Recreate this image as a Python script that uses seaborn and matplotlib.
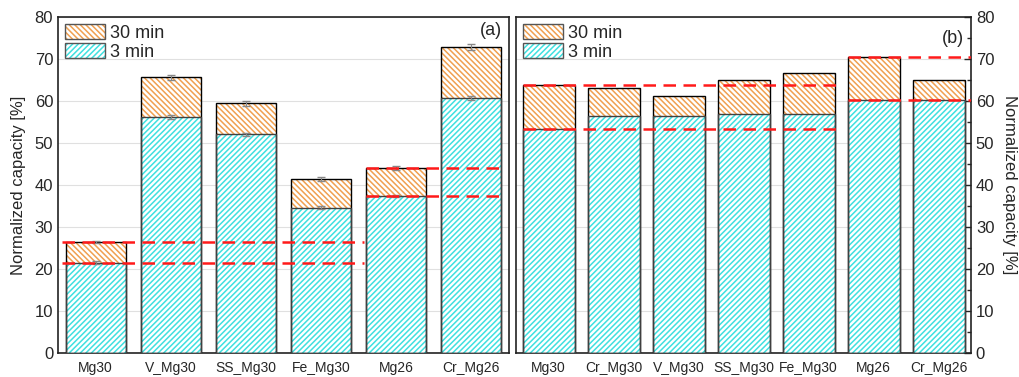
import matplotlib
matplotlib.use("Agg")
import matplotlib.pyplot as plt
import matplotlib.patches as mpatches
from matplotlib.legend_handler import HandlerTuple
from matplotlib.ticker import MultipleLocator
import numpy as np
import pandas as pd
import seaborn as sns

# ---------------- data ----------------
samples_a = ["Mg30", "V_Mg30", "SS_Mg30", "Fe_Mg30", "Mg26", "Cr_Mg26"]
cap3_a = [21.5, 56.2, 52.1, 34.6, 37.4, 60.7]
cap30_a = [26.4, 65.6, 59.5, 41.4, 44.1, 72.8]
err3_a = [0.3, 0.5, 0.4, 0.3, 0.3, 0.5]
err30_a = [0.3, 0.6, 0.6, 0.4, 0.5, 0.7]

samples_b = ["Mg30", "Cr_Mg30", "V_Mg30", "SS_Mg30", "Fe_Mg30", "Mg26", "Cr_Mg26"]
cap3_b = [53.4, 56.5, 56.5, 56.8, 57.0, 60.2, 60.2]
cap30_b = [63.7, 63.0, 61.3, 65.0, 66.6, 70.4, 64.9]

legend_labels = ["30 min", "3 min"]
ylabel = "Normalized capacity [%]"

ORANGE = "#f0a050"
CYAN = "#3fe0e0"
RED = "#ff1a1a"
H30 = "\\" * 6
H3 = "/" * 6

sns.set_style("white")
plt.rcParams["font.family"] = ["Liberation Sans", "DejaVu Sans"]
plt.rcParams["hatch.linewidth"] = 1.1

fig = plt.figure(figsize=(10.19, 3.77), dpi=100)
W, H = 1019, 377
ax_a = fig.add_axes([58 / W, (H - 353) / H, (509 - 58) / W, (353 - 17) / H])
ax_b = fig.add_axes([516 / W, (H - 353) / H, (971 - 516) / W, (353 - 17) / H])


def draw_panel(ax, samples, c3, c30):
    df = pd.DataFrame({"sample": samples, "c3": c3, "c30": c30})
    common = dict(data=df, x="sample", order=samples, errorbar=None,
                  width=0.8, saturation=1, ax=ax)
    sns.barplot(y="c30", color="white", edgecolor=ORANGE, hatch=H30,
                linewidth=0, zorder=2, **common)
    sns.barplot(y="c3", color="white", edgecolor=CYAN, hatch=H3,
                linewidth=0, zorder=3, **common)
    sns.barplot(y="c30", fill=False, color="black", edgecolor="black",
                linewidth=1.0, zorder=4, **common)
    sns.barplot(y="c3", fill=False, color="black", edgecolor="#404040",
                linewidth=1.0, zorder=4, **common)
    ax.set_ylim(0, 80)
    ax.set_xlim(-0.5, len(samples) - 0.5)
    ax.yaxis.set_major_locator(MultipleLocator(10))
    ax.yaxis.set_minor_locator(MultipleLocator(5))
    ax.grid(axis="y", which="major", color="#e0e0e0", linewidth=0.8, zorder=0)
    ax.set_axisbelow(True)
    ax.set_xlabel("")
    ax.tick_params(axis="x", length=0, labelsize=10, pad=6)
    ax.tick_params(axis="y", which="major", direction="in", length=5,
                   width=1, labelsize=12)
    ax.tick_params(axis="y", which="minor", direction="in", length=3, width=1)
    for s in ax.spines.values():
        s.set_linewidth(1.2)
        s.set_color("#222222")
    # legend
    h30 = (mpatches.Patch(facecolor="white", edgecolor=ORANGE, hatch=H30, linewidth=0),
           mpatches.Patch(facecolor="none", edgecolor="#555555", linewidth=1))
    h3 = (mpatches.Patch(facecolor="white", edgecolor=CYAN, hatch=H3, linewidth=0),
          mpatches.Patch(facecolor="none", edgecolor="#555555", linewidth=1))
    ax.legend([h30, h3], legend_labels, handler_map={tuple: HandlerTuple(ndivide=1)},
              loc="upper left", frameon=False, fontsize=13, handlelength=2.2,
              handleheight=0.85, handletextpad=0.3, labelspacing=0.1,
              borderaxespad=0.2, borderpad=0.2)


# ---------- panel (a) ----------
draw_panel(ax_a, samples_a, cap3_a, cap30_a)
xa = np.arange(len(samples_a))
ax_a.errorbar(xa, cap30_a, yerr=err30_a, fmt="none", ecolor="#888888",
              elinewidth=0.8, capsize=3, zorder=5)
ax_a.errorbar(xa, cap3_a, yerr=err3_a, fmt="none", ecolor="#888888",
              elinewidth=0.8, capsize=3, zorder=5)
dash = dict(colors=RED, linestyles=(0, (5, 3)), linewidth=1.8, zorder=6)
ax_a.hlines([cap30_a[0], cap3_a[0]], xa[0] - 0.45, xa[3] + 0.57, **dash)
ax_a.hlines([cap30_a[4], cap3_a[4]], xa[4] - 0.4, xa[5] + 0.37, **dash)
ax_a.set_ylabel(ylabel, fontsize=12, labelpad=6)
ax_a.text(0.985, 0.985, "(a)", transform=ax_a.transAxes, ha="right", va="top",
          fontsize=13)

# ---------- panel (b) ----------
draw_panel(ax_b, samples_b, cap3_b, cap30_b)
xb = np.arange(len(samples_b))
ax_b.hlines([cap30_b[0], cap3_b[0]], xb[0] - 0.4, xb[4] + 0.5, **dash)
ax_b.hlines([cap30_b[5], cap3_b[5]], xb[5] - 0.4, xb[6] + 0.5, **dash)
ax_b.yaxis.tick_right()
ax_b.yaxis.set_label_position("right")
ax_b.tick_params(axis="y", which="both", left=False, right=True)
ax_b.set_ylabel(ylabel, fontsize=12, rotation=270, labelpad=16)
ax_b.text(0.985, 0.96, "(b)", transform=ax_b.transAxes, ha="right", va="top",
          fontsize=13)

fig.savefig("out.png", dpi=100)
